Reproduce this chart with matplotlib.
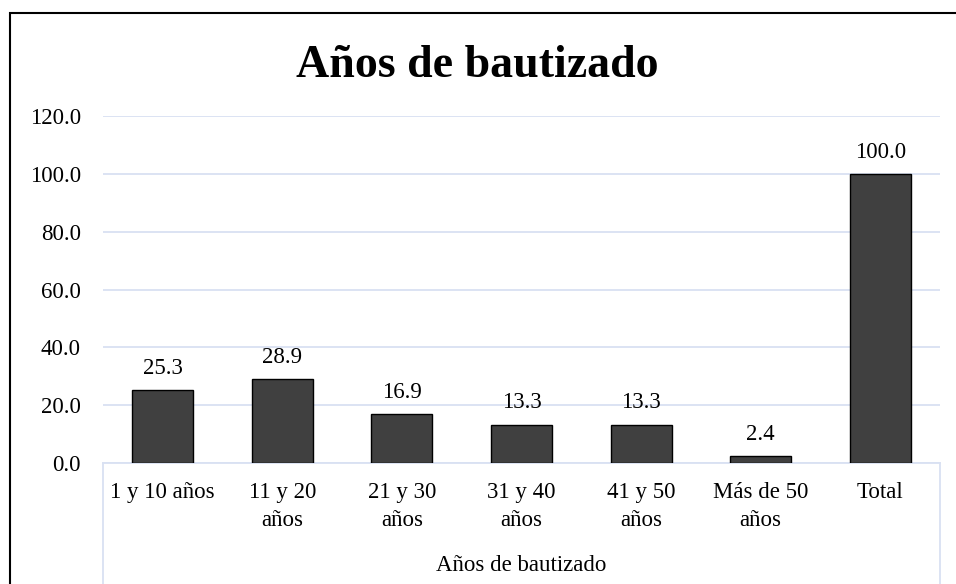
import matplotlib.pyplot as plt
from matplotlib.patches import Rectangle

categorias = ['1 y 10 años', '11 y 20\naños', '21 y 30\naños', '31 y 40\naños',
              '41 y 50\naños', 'Más de 50\naños', 'Total']
valores = [25.3, 28.9, 16.9, 13.3, 13.3, 2.4, 100.0]
y_ticks = [0, 20, 40, 60, 80, 100, 120]

plt.rcParams['font.family'] = ['Liberation Serif', 'DejaVu Serif']

fig = plt.figure(figsize=(9.56, 5.84), dpi=100)
ax = fig.add_axes([103/956, 1 - 463/584, (940 - 103)/956, (463 - 116)/584])

grid_color = '#d9e1f2'
fs = 16.5
x = range(len(categorias))
ax.bar(x, valores, width=0.51, color='#404040', edgecolor='black', linewidth=1.0, zorder=3)

for xi, v in zip(x, valores):
    ax.annotate(f'{v:.1f}', (xi, v), xytext=(0, 8), textcoords='offset points',
                ha='center', va='bottom', fontsize=fs)

ax.set_xlim(-0.5, len(categorias) - 0.5)
ax.set_ylim(0, 120)
ax.set_yticks(y_ticks)
ax.set_yticklabels([f'{t:.1f}' for t in y_ticks], fontsize=fs)
ax.yaxis.grid(True, color=grid_color, linewidth=1.3, zorder=0)
ax.set_xticks(list(x))
ax.set_xticklabels(categorias, fontsize=fs, va='top', linespacing=1.45)
ax.tick_params(axis='both', length=0)
ax.tick_params(axis='x', pad=13.5)
ax.tick_params(axis='y', pad=16)

for s in ['top', 'right', 'left']:
    ax.spines[s].set_visible(False)
ax.spines['bottom'].set_color(grid_color)
ax.spines['bottom'].set_linewidth(1.3)

# caja del eje de categorias
for xa in (0, 1):
    ax.plot([xa, xa], [0, -0.36], transform=ax.transAxes, color=grid_color,
            linewidth=1.3, clip_on=False)

ax.text(0.5, -0.295, 'Años de bautizado', transform=ax.transAxes,
        ha='center', va='center', fontsize=fs)

fig.text(0.499, 1 - 66/584, 'Años de bautizado', ha='center', va='center',
         fontsize=33, fontweight='bold')

# borde del grafico
fig.patches.append(Rectangle((10/956, -0.1), 2, 1.1 - 13/584, transform=fig.transFigure,
                             fill=False, edgecolor='black', linewidth=1.5))

fig.savefig('out.png', dpi=100)
